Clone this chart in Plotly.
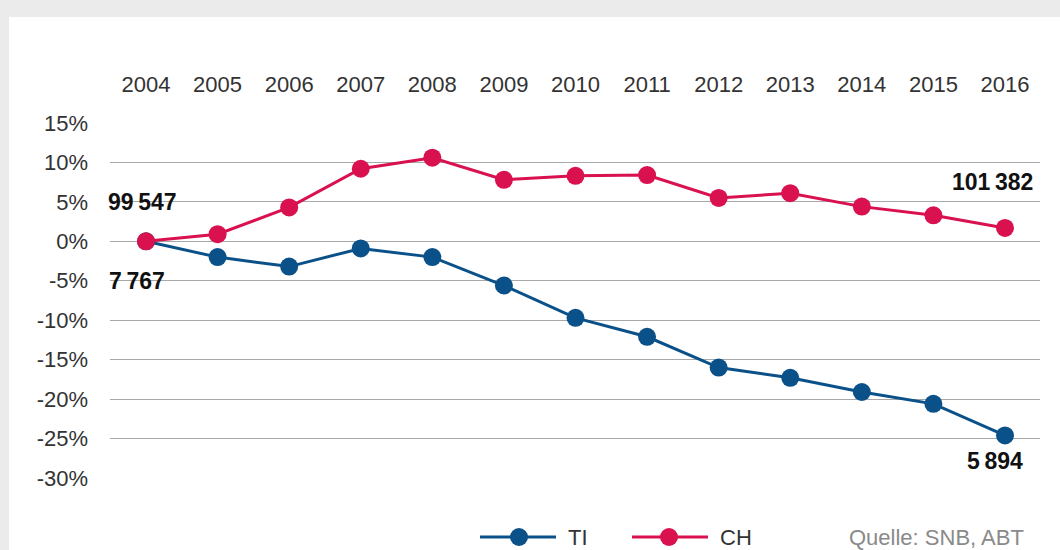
import plotly.graph_objects as go

years = list(range(2004, 2017))
ti_values = [0, -2.0, -3.2, -0.9, -2.0, -5.6, -9.7, -12.1, -16.0, -17.3, -19.1, -20.6, -24.6]
ch_values = [0, 0.9, 4.3, 9.2, 10.6, 7.8, 8.3, 8.4, 5.5, 6.1, 4.4, 3.3, 1.7]
y_ticks = [15, 10, 5, 0, -5, -10, -15, -20, -25, -30]
y_tick_labels = [f"{v}%" for v in y_ticks]
labels = [
    ("99\u2009547", 2003.944, 4.95, "center"),
    ("7\u2009767", 2003.87, -5.05, "center"),
    ("101\u2009382", 2016.42, 7.5, "right"),
    ("5\u2009894", 2016.28, -27.9, "right"),
]
source_text = "Quelle: SNB, ABT"

TI_COLOR = "#0b5189"
CH_COLOR = "#d9114f"
FONT = "Liberation Sans, Arial, sans-serif"

W, H = 1060, 550
L, R, T, B = 110, 20, 123, 72
PW, PH = W - L - R, H - T - B


def px_x(px):
    return (px - L) / PW


def px_y(py):
    return (H - B - py) / PH


fig = go.Figure()
fig.add_trace(go.Scatter(x=years, y=ti_values, mode="lines+markers", name="TI",
                         line=dict(color=TI_COLOR, width=3),
                         marker=dict(size=18, color=TI_COLOR), cliponaxis=False,
                         showlegend=False))
fig.add_trace(go.Scatter(x=years, y=ch_values, mode="lines+markers", name="CH",
                         line=dict(color=CH_COLOR, width=3),
                         marker=dict(size=18, color=CH_COLOR), cliponaxis=False,
                         showlegend=False))

shapes = []
shapes.append(dict(type="rect", xref="paper", yref="paper", layer="below",
                   x0=px_x(9), x1=px_x(W + 5), y0=px_y(17), y1=px_y(H + 5),
                   fillcolor="white", line=dict(width=0)))

annotations = []
for text, xv, yv, anchor in labels:
    annotations.append(dict(x=xv, y=yv, xref="x", yref="y", text=f"<b>{text}</b>",
                            showarrow=False, xanchor=anchor, yanchor="middle",
                            font=dict(family=FONT, size=23, color="#111")))

leg_y = px_y(537)
for name, color, x0, x1, cxp, tx in [("TI", TI_COLOR, 480, 556, 519, 566),
                                      ("CH", CH_COLOR, 632, 708, 669, 718)]:
    shapes.append(dict(type="line", xref="paper", yref="paper", x0=px_x(x0), x1=px_x(x1),
                       y0=leg_y, y1=leg_y, line=dict(color=color, width=3)))
    shapes.append(dict(type="circle", xref="paper", yref="paper", xsizemode="pixel", ysizemode="pixel",
                       xanchor=px_x(cxp), yanchor=leg_y, x0=-9, x1=9, y0=-9, y1=9,
                       fillcolor=color, line=dict(width=0)))
    annotations.append(dict(x=px_x(tx), y=leg_y, xref="paper", yref="paper", text=name,
                            showarrow=False, xanchor="left", yanchor="middle",
                            font=dict(family=FONT, size=22, color="#333")))
annotations.append(dict(x=px_x(1026), y=leg_y, xref="paper", yref="paper", text=source_text,
                        showarrow=False, xanchor="right", yanchor="middle",
                        font=dict(family=FONT, size=22, color="#8a8a8a")))

fig.update_layout(
    width=W, height=H,
    margin=dict(l=L, r=R, t=T, b=B),
    paper_bgcolor="#ebebeb", plot_bgcolor="white",
    shapes=shapes, annotations=annotations,
    showlegend=False,
    xaxis=dict(range=[2003.497, 2016.489], side="top", tickmode="array", tickvals=years,
               ticktext=[str(y) for y in years], showgrid=False, zeroline=False,
               showline=False, ticks="", ticklabelstandoff=26,
               tickfont=dict(family=FONT, size=22, color="#333")),
    yaxis=dict(range=[-30, 15], tickmode="array", tickvals=y_ticks, ticktext=y_tick_labels,
               showgrid=True, gridcolor="#a8a8a8", gridwidth=1.3, zeroline=False,
               showline=False, ticks="", ticklabelstandoff=21,
               tickfont=dict(family=FONT, size=22, color="#333")),
)

fig.write_html("out.html", config={"displayModeBar": False},
               post_script="document.body.style.margin='0';document.body.style.padding='0';")
